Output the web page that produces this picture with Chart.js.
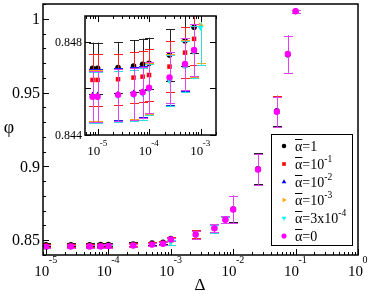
<!DOCTYPE html>
<html><head><meta charset="utf-8">
<script src="https://cdn.jsdelivr.net/npm/chart.js@4.4.1/dist/chart.umd.min.js"></script>
<style>
html,body{margin:0;padding:0;background:#fff;}
#wrap{position:relative;width:370px;height:294px;overflow:hidden;}
#main{position:absolute;left:0;top:0;}
#inset{position:absolute;left:40px;top:4px;}
</style></head><body>
<div id="wrap"><canvas id="main" width="370" height="294"></canvas><canvas id="inset" width="190" height="156"></canvas></div>
<script>
// ---------------- data ----------------
const delta = [8e-6,1e-5,2.5e-5,5e-5,7.5e-5,1e-4,2.5e-4,5e-4,7.5e-4,1e-3,2.5e-3,5e-3,7.5e-3,1e-2,2.5e-2,5e-2,7.5e-2,1e-1];
const seriesNames = ["1","10^-1","10^-2","10^-3","3x10^-4","0"];
const phiAlpha1   = [0.84686,0.84686,0.84689,0.84696,0.84703,0.84707,0.84743,0.84804,0.84862,0.8512,0.8542,0.8584,0.8641,0.8712,0.8984,0.9376,0.9757,1.0052];
const phiAlpha1m1 = [0.84636,0.84636,0.84639,0.84646,0.84650,0.84657,0.84693,0.84753,0.84812,0.8508,0.8540,0.8583,0.8640,0.8710,0.8981,0.9373,0.9760,1.0051];
const phiAlpha1m2 = [0.84572,0.84572,0.84576,0.84580,0.84586,0.84600,0.84638,0.84697,0.84758,0.8505,0.8538,0.8581,0.8639,0.8708,0.8979,0.9370,0.9761,1.0051];
const phiAlpha1m3 = [0.84568,0.84568,0.84572,0.84577,0.84582,0.84598,0.84636,0.84695,0.84757,0.8487,0.8537,0.8580,0.8638,0.8707,0.8978,0.9369,0.9760,1.0050];
const phiAlpha3m4 = [0.84562,0.84562,0.84566,0.84570,0.84576,0.84594,0.84633,0.84693,0.84755,0.8486,0.8536,0.8579,0.8637,0.8706,0.8977,0.9368,0.9759,1.0050];
const phiAlpha0   = [0.84564,0.84564,0.84572,0.84576,0.84583,0.84603,0.84647,0.84704,0.84764,0.8505,0.8538,0.8581,0.8639,0.8708,0.8979,0.9370,0.9761,1.0051];
const errCommon   = [0.0011,0.0011,0.0011,0.0011,0.0011,0.0011,0.0011,0.0011,0.0011,0.0012,0.0027,0.0026,0.0022,0.0090,0.0105,0.0103,0.0125,0.0010];
const errLowAlpha = [0.0011,0.0011,0.0011,0.0011,0.0011,0.0011,0.0011,0.0011,0.0011,0.0016,0.0028,0.0027,0.0023,0.0091,0.0106,0.0104,0.0126,0.0010];
const mainYTicks = [0.85,0.9,0.95,1];
const mainYTickLabels = ["0.85","0.9","0.95","1"];
const mainXDecades = [-5,-4,-3,-2,-1,0];
const insetYTicks = [0.844,0.846,0.848];
const insetYTickLabels = ["0.844","","0.848"];
const insetXDecades = [-5,-4,-3];

const values = [phiAlpha1,phiAlpha1m1,phiAlpha1m2,phiAlpha1m3,phiAlpha3m4,phiAlpha0];
const errors = [errCommon,errCommon,errCommon,errLowAlpha,errLowAlpha,errCommon];
const markerColors = ["#000000","#ff0000","#0000ff","#ffa500","#00ffff","#ff00ff"];
const barColors = ["#222222","#ff2020","#2020ff","#ffa500","#30dcdc","#e040f0"];
const styles = ["circle","rect","triangle","triangle","triangle","circle"];
const rotations = [0,0,0,90,180,0];
const radii = [2.8,3.2,3.4,3.4,3.4,3.2];

const SERIF = '"Liberation Serif","DejaVu Serif",serif';

function makeDatasets(){
  return values.map((vals,i)=>({
    label: seriesNames[i],
    data: delta.map((d,j)=>({x:d,y:vals[j]})),
    pointStyle: styles[i],
    rotation: rotations[i],
    pointRadius: radii[i],
    pointBorderWidth: 0,
    backgroundColor: markerColors[i],
    borderColor: markerColors[i],
    showLine: false,
    clip: 0,
    order: 5 - i
  }));
}

const errorBarPlugin = {
  id: 'errbars',
  beforeDatasetDraw(chart, args){
    const i = args.index;
    const xs = chart.scales.x, ys = chart.scales.y, ca = chart.chartArea;
    const ctx = chart.ctx;
    ctx.save();
    ctx.beginPath(); ctx.rect(ca.left, ca.top, ca.right-ca.left, ca.bottom-ca.top); ctx.clip();
    ctx.strokeStyle = barColors[i];
    ctx.lineWidth = 1;
    const vals = values[i], errs = errors[i];
    for (let j=0;j<delta.length;j++){
      const px = Math.round(xs.getPixelForValue(delta[j])) + 0.5;
      const yt = ys.getPixelForValue(vals[j] + errs[j]);
      const yb = ys.getPixelForValue(vals[j] - errs[j]);
      ctx.beginPath();
      ctx.moveTo(px, yt); ctx.lineTo(px, yb);
      ctx.moveTo(px-4.5, Math.round(yt)+0.5); ctx.lineTo(px+4.5, Math.round(yt)+0.5);
      ctx.moveTo(px-4.5, Math.round(yb)+0.5); ctx.lineTo(px+4.5, Math.round(yb)+0.5);
      ctx.stroke();
    }
    ctx.restore();
  }
};

function drawPow(ctx, cx, baseY, supY, exp, baseSize, supSize){
  const bf = baseSize + 'px ' + SERIF, sf = supSize + 'px ' + SERIF;
  ctx.font = bf; const wb = ctx.measureText('10').width;
  ctx.font = sf; const ws = ctx.measureText(exp).width;
  const x0 = cx - (wb + ws)/2;
  ctx.textAlign = 'left'; ctx.textBaseline = 'alphabetic';
  ctx.font = bf; ctx.fillText('10', x0, baseY);
  ctx.font = sf; ctx.fillText(exp, x0 + wb - 0.5, supY);
}

function logTicks(min, max){
  const out = [];
  const lo = Math.floor(Math.log10(min)), hi = Math.ceil(Math.log10(max));
  for (let n=lo;n<=hi;n++) for (let k=1;k<=9;k++){
    const v = k*Math.pow(10,n);
    if (v>=min*0.999 && v<=max*1.001) out.push({v, major: k===1});
  }
  return out;
}

const mainAxesPlugin = {
  id: 'mainAxes',
  afterDraw(chart){
    const ctx = chart.ctx, ca = chart.chartArea, xs = chart.scales.x, ys = chart.scales.y;
    ctx.save();
    ctx.strokeStyle = '#000'; ctx.fillStyle = '#000';
    ctx.lineWidth = 1;
    ctx.beginPath();
    for (const t of logTicks(xs.min, xs.max)){
      const px = Math.round(xs.getPixelForValue(t.v)) + 0.5;
      const len = t.major ? 6 : 3;
      ctx.moveTo(px, ca.bottom); ctx.lineTo(px, ca.bottom - len);
    }
    for (let k=84;k<=101;k++){
      const py = Math.round(ys.getPixelForValue(k/100)) + 0.5;
      const len = (k%5===0) ? 6 : 3;
      ctx.moveTo(ca.left, py); ctx.lineTo(ca.left + len, py);
    }
    ctx.stroke();
    ctx.lineWidth = 1.5;
    ctx.strokeRect(ca.left, ca.top, ca.right-ca.left, ca.bottom-ca.top);
    ctx.font = '16px ' + SERIF; ctx.textAlign = 'right'; ctx.textBaseline = 'middle';
    mainYTicks.forEach((v,i)=>{ ctx.fillText(mainYTickLabels[i], ca.left - 3, ys.getPixelForValue(v)+1); });
    mainXDecades.forEach(n=>{
      const px = xs.getPixelForValue(Math.pow(10,n));
      drawPow(ctx, px, 276, 263, n===0 ? '0' : String(n), 15, 10);
    });
    ctx.textAlign = 'center'; ctx.textBaseline = 'middle';
    ctx.font = '18px ' + SERIF; ctx.fillText('\u03c6', 9, 128);
    ctx.font = '17px ' + SERIF; ctx.fillText('\u0394', 200, 286);
    // legend
    const lx = 271, ly = 134, lw = 81, lh = 111;
    ctx.fillStyle = '#fff'; ctx.fillRect(lx, ly, lw, lh);
    ctx.lineWidth = 1; ctx.strokeStyle = '#000';
    ctx.strokeRect(lx+0.5, ly+0.5, lw, lh);
    for (let i=0;i<6;i++){
      const yy = 146 + i*18;
      ctx.save();
      ctx.fillStyle = markerColors[i]; ctx.strokeStyle = markerColors[i];
      Chart.helpers.drawPoint(ctx, {pointStyle: styles[i], radius: radii[i]*0.8, rotation: rotations[i], borderWidth: 0}, 284, yy);
      ctx.restore();
      ctx.fillStyle = '#000';
      ctx.textAlign = 'left'; ctx.textBaseline = 'alphabetic';
      const base = yy + 5;
      ctx.font = '14px ' + SERIF;
      let x = 295;
      const wa = ctx.measureText('\u03b1').width;
      ctx.fillText('\u03b1', x, base);
      ctx.fillRect(x, base - 12, wa, 1);
      x += wa;
      const parts = seriesNames[i].split('^');
      ctx.fillText('=' + parts[0], x, base);
      x += ctx.measureText('=' + parts[0]).width;
      if (parts[1]){
        ctx.font = '9.5px ' + SERIF;
        ctx.fillText(parts[1], x, base - 7);
      }
    }
    ctx.restore();
  }
};

const insetAxesPlugin = {
  id: 'insetAxes',
  beforeDraw(chart){
    const ctx = chart.ctx, ca = chart.chartArea;
    ctx.save(); ctx.fillStyle = '#fff';
    ctx.fillRect(ca.left, ca.top, ca.right-ca.left, ca.bottom-ca.top);
    ctx.restore();
  },
  afterDraw(chart){
    const ctx = chart.ctx, ca = chart.chartArea, xs = chart.scales.x, ys = chart.scales.y;
    ctx.save();
    ctx.strokeStyle = '#000'; ctx.fillStyle = '#000'; ctx.lineWidth = 1;
    ctx.beginPath();
    for (const t of logTicks(xs.min, xs.max)){
      const px = Math.round(xs.getPixelForValue(t.v)) + 0.5;
      const len = t.major ? 6 : 3;
      ctx.moveTo(px, ca.bottom); ctx.lineTo(px, ca.bottom - len);
      ctx.moveTo(px, ca.top); ctx.lineTo(px, ca.top + len);
    }
    insetYTicks.forEach(v=>{
      const py = Math.round(ys.getPixelForValue(v)) + 0.5;
      ctx.moveTo(ca.left, py); ctx.lineTo(ca.left + 6, py);
      ctx.moveTo(ca.right, py); ctx.lineTo(ca.right - 6, py);
    });
    ctx.stroke();
    ctx.lineWidth = 1.5;
    ctx.strokeRect(ca.left, ca.top, ca.right-ca.left, ca.bottom-ca.top);
    ctx.font = '12px ' + SERIF; ctx.textAlign = 'right'; ctx.textBaseline = 'middle';
    insetYTicks.forEach((v,i)=>{ if (insetYTickLabels[i]) ctx.fillText(insetYTickLabels[i], ca.left - 3, ys.getPixelForValue(v)+1); });
    insetXDecades.forEach(n=>{
      const px = xs.getPixelForValue(Math.pow(10,n));
      drawPow(ctx, px, 151, 142, String(n), 13, 9);
    });
    ctx.restore();
  }
};

const baseOptions = {
  responsive: false, animation: false, devicePixelRatio: 1,
  plugins: { legend: {display:false}, tooltip: {enabled:false} },
  events: []
};

new Chart(document.getElementById('main'), {
  type: 'scatter',
  data: { datasets: makeDatasets() },
  options: {
    ...baseOptions,
    layout: { padding: { left: 43, right: 12, top: 1, bottom: 39 } },
    scales: {
      x: { type: 'logarithmic', min: 8.95e-6, max: 1, display: false },
      y: { type: 'linear', min: 0.84, max: 1.01, display: false }
    }
  },
  plugins: [errorBarPlugin, mainAxesPlugin]
});

new Chart(document.getElementById('inset'), {
  type: 'scatter',
  data: { datasets: makeDatasets() },
  options: {
    ...baseOptions,
    layout: { padding: { left: 45, right: 14, top: 12, bottom: 25 } },
    scales: {
      x: { type: 'logarithmic', min: 5.7e-6, max: 2e-3, display: false },
      y: { type: 'linear', min: 0.844, max: 0.8491, display: false }
    }
  },
  plugins: [errorBarPlugin, insetAxesPlugin]
});
</script>
</body></html>
